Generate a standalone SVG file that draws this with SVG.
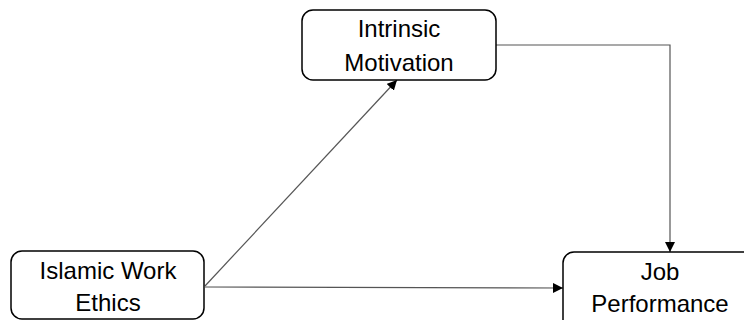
<svg xmlns="http://www.w3.org/2000/svg" width="744" height="320" viewBox="0 0 744 320">
<style>
.box{fill:#fff;stroke:#000;stroke-width:1.5}
.lbl{font-family:"Liberation Sans",Arial,sans-serif;font-size:24px;fill:#000;text-anchor:middle}
.con{fill:none;stroke:#555;stroke-width:1.2}
</style>
<defs>
<marker id="ah" viewBox="0 0 10 10" refX="10" refY="5" markerWidth="10" markerHeight="10" markerUnits="userSpaceOnUse" orient="auto">
<path d="M0,0 L10,5 L0,10 Z" fill="#000"/>
</marker>
</defs>
<rect width="744" height="320" fill="#fff"/>
<g id="connectors">
<path class="con" d="M205,286 L397,80" marker-end="url(#ah)"/>
<path class="con" d="M205,287 L563,288" marker-end="url(#ah)"/>
<path class="con" d="M496,45 L670,45 L670,252" marker-end="url(#ah)"/>
</g>
<g id="intrinsic-motivation">
<rect class="box" x="302" y="10" width="194" height="70" rx="11"/>
<text class="lbl" x="399" y="37">Intrinsic</text>
<text class="lbl" x="399" y="71">Motivation</text>
</g>
<g id="islamic-work-ethics">
<rect class="box" x="11" y="251" width="193" height="68" rx="11"/>
<text class="lbl" x="108" y="279">Islamic Work</text>
<text class="lbl" x="108" y="311">Ethics</text>
</g>
<g id="job-performance">
<rect class="box" x="563" y="252" width="194" height="80" rx="11"/>
<text class="lbl" x="660" y="280">Job</text>
<text class="lbl" x="660" y="312">Performance</text>
</g>
</svg>
